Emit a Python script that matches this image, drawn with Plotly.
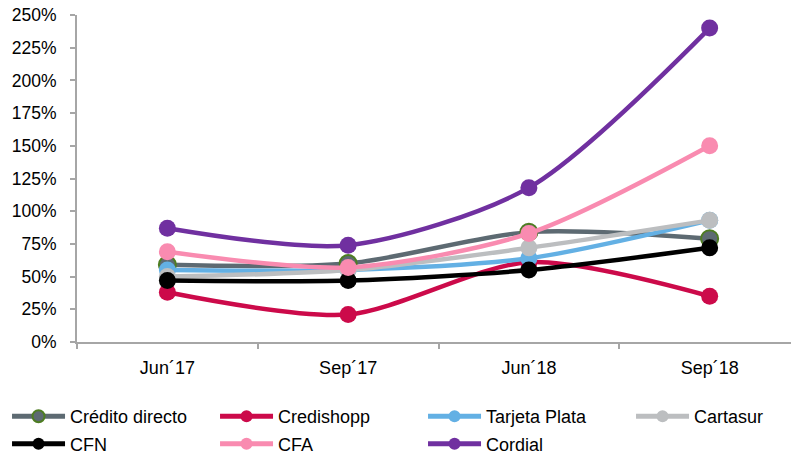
import plotly.graph_objects as go

categories = ["Jun´17", "Sep´17", "Jun´18", "Sep´18"]
credito_directo = [59, 60, 84, 79]
credishopp = [38, 21, 61, 35]
tarjeta_plata = [55, 55, 64, 93]
cartasur = [50, 55, 72, 93]
cfn = [47, 47, 55, 72]
cfa = [69, 57, 83, 150]
cordial = [87, 74, 118, 240]

series = [
    ("Crédito directo", credito_directo, "#5d6a72", "#4e7d22", "legend"),
    ("Credishopp", credishopp, "#cc0a4a", None, "legend"),
    ("Tarjeta Plata", tarjeta_plata, "#63b0e4", None, "legend"),
    ("Cartasur", cartasur, "#bcbec0", None, "legend"),
    ("CFN", cfn, "#000000", None, "legend2"),
    ("CFA", cfa, "#f98bb0", None, "legend2"),
    ("Cordial", cordial, "#7030a0", None, "legend2"),
]

fig = go.Figure()
for name, vals, color, outline, lg in series:
    fig.add_trace(go.Scatter(
        x=categories, y=vals, name=name, mode="lines+markers", legend=lg,
        legendwidth=90 if name == "Cartasur" else None,
        line=dict(color=color, width=4.5, shape="spline", smoothing=0.8),
        marker=dict(size=17, color=color,
                    line=dict(color=outline if outline else color, width=2 if outline else 0)),
    ))

leg_common = dict(orientation="h", xanchor="left", yanchor="middle",
                  entrywidth=140, entrywidthmode="pixels", itemwidth=53,
                  font=dict(size=18), itemsizing="constant", bgcolor="rgba(0,0,0,0)")

fig.update_layout(
    width=791, height=456,
    margin=dict(l=77, r=0, t=15, b=114, autoexpand=False),
    paper_bgcolor="white", plot_bgcolor="white",
    font=dict(family="Liberation Sans, Arial, sans-serif", size=18, color="#000000"),
    showlegend=True,
    legend=dict(x=-0.098, y=-0.228, **leg_common),
    legend2=dict(x=-0.098, y=-0.312, **leg_common),
    xaxis=dict(type="category", range=[-0.5, 3.45], showline=True, linecolor="#a6a6a6",
               linewidth=2, showgrid=False, ticks="outside", tickson="boundaries",
               ticklen=5, tickcolor="#a6a6a6", tickwidth=2, tickfont=dict(size=18),
               ticklabelstandoff=8),
    yaxis=dict(range=[0, 250], dtick=25, ticksuffix="%", showline=True, linecolor="#a6a6a6",
               linewidth=2, showgrid=False, ticks="outside", ticklen=5, tickcolor="#a6a6a6",
               tickwidth=2, tickfont=dict(size=17.5), zeroline=False, ticklabelstandoff=10),
)

fig.write_html("out.html")
